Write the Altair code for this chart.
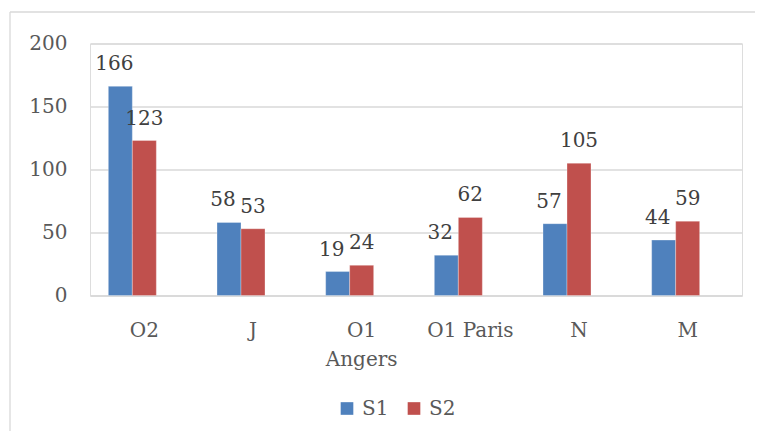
import altair as alt
import pandas as pd

categories = ["O2", "J", "O1 Angers", "O1 Paris", "N", "M"]
series_names = ["S1", "S2"]
s1_values = [166, 58, 19, 32, 57, 44]
s2_values = [123, 53, 24, 62, 105, 59]
y_ticks = [0, 50, 100, 150, 200]

rows = []
for c, a, b in zip(categories, s1_values, s2_values):
    rows.append({"cat": c, "series": "S1", "value": a})
    rows.append({"cat": c, "series": "S2", "value": b})
df = pd.DataFrame(rows)

FONT = "DejaVu Serif"
colors = ["#4F81BD", "#C0504D"]

x_enc = alt.X(
    "cat:N",
    sort=categories,
    scale=alt.Scale(paddingInner=0, paddingOuter=0),
    axis=alt.Axis(
        title=None,
        labelAngle=0,
        labelFont=FONT,
        labelFontSize=20,
        labelColor="#595959",
        labelPadding=25,
        labelLineHeight=29,
        labelExpr="datum.value == 'O1 Angers' ? ['O1', 'Angers'] : datum.value",
        ticks=False,
        domainColor="#d9d9d9",
        domainWidth=1.3,
        grid=False,
    ),
)
xoff_enc = alt.XOffset(
    "series:N",
    scale=alt.Scale(domain=["S1", "S2", "_pad"], paddingInner=0, paddingOuter=0.764),
)
y_enc = alt.Y(
    "value:Q",
    scale=alt.Scale(domain=[0, 200], nice=False),
    axis=alt.Axis(
        title=None,
        values=y_ticks,
        labelFont=FONT,
        labelFontSize=20,
        labelColor="#595959",
        labelPadding=23,
        ticks=False,
        domain=False,
        gridColor="#d9d9d9",
        gridWidth=1.3,
    ),
)

base = alt.Chart(df)

bars = base.mark_bar(stroke="white", strokeWidth=0.5, strokeOpacity=0.6).encode(
    x=x_enc,
    xOffset=xoff_enc,
    y=y_enc,
    color=alt.Color(
        "series:N",
        scale=alt.Scale(domain=series_names, range=colors),
        legend=alt.Legend(
            title=None,
            orient="none",
            direction="horizontal",
            legendX=247,
            legendY=355,
            symbolType="square",
            symbolSize=160,
            symbolStrokeWidth=0,
            labelFont=FONT,
            labelFontSize=20,
            labelColor="#595959",
            labelOffset=5,
            columnPadding=15,
            padding=0,
        ),
    ),
)

text_s1 = base.transform_filter("datum.series == 'S1'").mark_text(
    font=FONT, fontSize=20, color="#404040", baseline="alphabetic", dy=-16, dx=-6
).encode(x=x_enc, xOffset=xoff_enc, y=y_enc, text="value:Q")

text_s2 = base.transform_filter("datum.series == 'S2'").mark_text(
    font=FONT, fontSize=20, color="#404040", baseline="alphabetic", dy=-16
).encode(x=x_enc, xOffset=xoff_enc, y=y_enc, text="value:Q")

one = pd.DataFrame({"k": [0]})
border_top = alt.Chart(one).mark_rule(color="#d9d9d9", strokeWidth=1.3).encode(
    x=alt.value(-80), x2=alt.value(665), y=alt.value(-31.5)
)
border_left = alt.Chart(one).mark_rule(color="#d9d9d9", strokeWidth=1.3).encode(
    x=alt.value(-80), y=alt.value(-31.5), y2=alt.value(400)
)

chart = alt.layer(border_top, border_left, bars, text_s1, text_s2).properties(
    width=652,
    height=252,
    autosize=alt.AutoSizeParams(type="none"),
    padding={"left": 82, "top": 35.5, "right": 13, "bottom": 135},
).configure_view(stroke=None).configure(background="white")

chart.save("out.html", embed_options={"renderer": "svg", "actions": False})
